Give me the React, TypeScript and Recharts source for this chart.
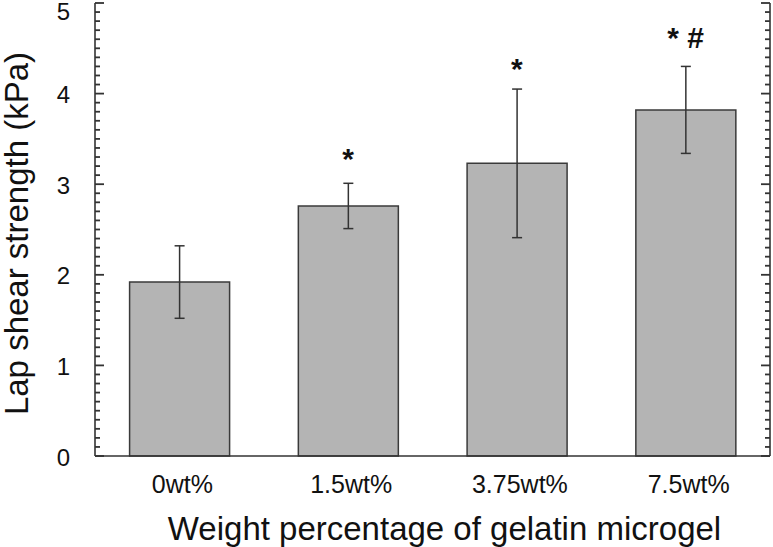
import React from 'react';
import { ComposedChart, Bar, Line, XAxis, YAxis, ErrorBar, ReferenceDot } from 'recharts';

const categories = ['0wt%', '1.5wt%', '3.75wt%', '7.5wt%'];
const strength = [1.92, 2.76, 3.23, 3.82];
const strengthError = [0.4, 0.25, 0.82, 0.48];
const significance = ['', '*', '*', '* #'];
const significanceY = [0, 3.17, 4.16, 4.5];
const majorTicks = [0, 1, 2, 3, 4, 5];
const minorPerMajor = 10;

const FONT = '"Liberation Sans", Arial, Helvetica, sans-serif';
const AXIS = '#333333';

const data = categories.map((c, i) => ({ category: c, value: strength[i], err: strengthError[i] }));

const allTicks: number[] = [];
for (let m = 0; m < majorTicks.length - 1; m++) {
  for (let k = 0; k < minorPerMajor; k++) {
    allTicks.push(Math.round((majorTicks[m] + (k * (majorTicks[m + 1] - majorTicks[m])) / minorPerMajor) * 1000) / 1000);
  }
}
allTicks.push(majorTicks[majorTicks.length - 1]);

const isMajor = (v: number) => majorTicks.some((t) => Math.abs(t - v) < 1e-6);

const LeftTick = (props: any) => {
  const { x, y, payload } = props;
  const v = Number(payload.value);
  const major = isMajor(v);
  const nx = Number(x);
  const ny = Number(y);
  return (
    <g>
      <path d={`M${nx},${ny}h${major ? 9 : 5}`} stroke={AXIS} strokeWidth={1.8} fill="none" />
      {major && (
        <text x={nx - 25} y={Math.max(ny + 9.5, 20)} textAnchor="end" fontSize={24} fill="#111" fontFamily={FONT}>
          {v}
        </text>
      )}
    </g>
  );
};

const RightTick = (props: any) => {
  const { x, y, payload } = props;
  const major = isMajor(Number(payload.value));
  return <path d={`M${Number(x)},${Number(y)}h${major ? -9 : -5}`} stroke={AXIS} strokeWidth={1.8} fill="none" />;
};

const BottomTick = (props: any) => {
  const { x, y, payload } = props;
  return (
    <text x={x + 3} y={y} dy={37} textAnchor="middle" fontSize={25} fill="#111" fontFamily={FONT}>
      {payload.value}
    </text>
  );
};

const XTitle = (props: any) => {
  const vb = props.viewBox;
  return (
    <text x={vb.x + vb.width / 2 + 12} y={vb.y + 84} textAnchor="middle" fontSize={33} fill="#111" fontFamily={FONT}>
      Weight percentage of gelatin microgel
    </text>
  );
};

const YTitle = (props: any) => {
  const vb = props.viewBox;
  const cx = 28;
  const cy = vb.y + vb.height / 2 + 4;
  return (
    <text x={cx} y={cy} transform={`rotate(-90 ${cx} ${cy})`} textAnchor="middle" fontSize={33} fill="#111" fontFamily={FONT}>
      Lap shear strength (kPa)
    </text>
  );
};

export default function App() {
  return (
    <div style={{ position: 'absolute', left: 0, top: 0, width: 773, height: 547, background: '#fff' }}>
      <ComposedChart
        width={773}
        height={547}
        data={data}
        margin={{ top: 3, right: 0, bottom: 0, left: 0 }}
        barCategoryGap="20.5%"
      >
        <XAxis xAxisId="top" orientation="top" dataKey="category" height={0} tick={false} tickLine={false} axisLine={{ stroke: AXIS, strokeWidth: 1.6 }} />
        <XAxis xAxisId="bottom" orientation="bottom" dataKey="category" height={91} tickSize={0} tickMargin={0} tickLine={false} tick={<BottomTick />} interval={0} axisLine={{ stroke: AXIS, strokeWidth: 1.6 }} label={<XTitle />} />
        <YAxis yAxisId="left" orientation="left" width={95} type="number" domain={[0, 5]} ticks={allTicks} interval={0} tickSize={0} tickMargin={0} tickLine={false} tick={<LeftTick />} axisLine={{ stroke: AXIS, strokeWidth: 1.6 }} label={<YTitle />} />
        <YAxis yAxisId="right" orientation="right" width={3} type="number" domain={[0, 5]} ticks={allTicks} interval={0} tickSize={0} tickMargin={0} tickLine={false} tick={<RightTick />} axisLine={{ stroke: AXIS, strokeWidth: 1.6 }} />
        <Bar xAxisId="bottom" yAxisId="left" dataKey="value" fill="#b4b4b4" stroke="#3a3a3a" strokeWidth={1.5} isAnimationActive={false}>
          <ErrorBar dataKey="err" width={5} stroke="#333" strokeWidth={1.5} direction="y" />
        </Bar>
        <Line xAxisId="bottom" yAxisId="right" dataKey="value" stroke="none" dot={false} activeDot={false} isAnimationActive={false} />
        {categories.map((c, i) =>
          significance[i] ? (
            <ReferenceDot key={c} xAxisId="bottom" yAxisId="left" x={c} y={significanceY[i]} r={0} ifOverflow="visible"
              shape={(p: any) => (
                <text x={p.cx} y={p.cy} textAnchor="middle" fontSize={30} fontWeight="bold" fill="#111" fontFamily={FONT}>
                  {significance[i]}
                </text>
              )}
            />
          ) : null
        )}
      </ComposedChart>
    </div>
  );
}
